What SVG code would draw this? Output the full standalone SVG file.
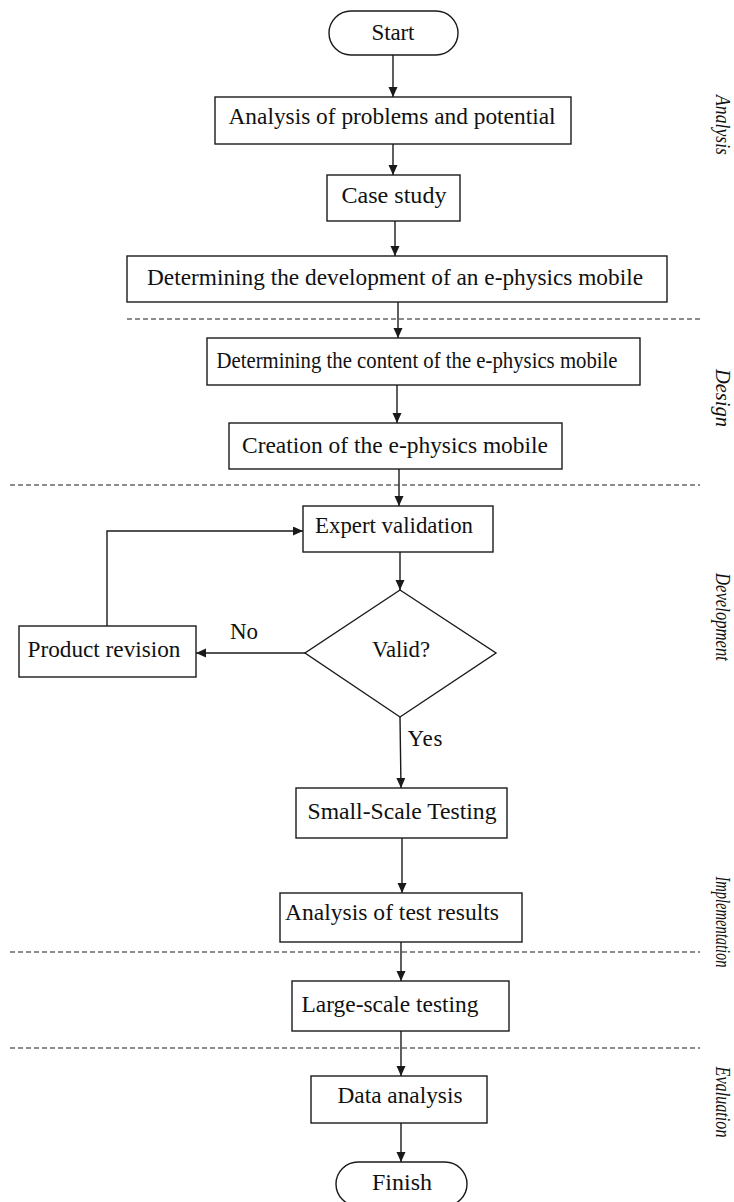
<svg xmlns="http://www.w3.org/2000/svg" width="734" height="1202" viewBox="0 0 734 1202">
<defs>
<style>
.box{fill:#fff;stroke:#1a1a1a;stroke-width:1.4}
.t{font-family:"Liberation Serif","Times New Roman",serif;font-size:23px;fill:#111;text-anchor:middle}
.side{font-family:"Liberation Serif","Times New Roman",serif;font-size:20px;font-style:italic;fill:#111;text-anchor:middle}
.c{fill:none;stroke:#1a1a1a;stroke-width:1.4}
.dash{fill:none;stroke:#1a1a1a;stroke-width:1.2;stroke-dasharray:5 3}
</style>
<marker id="ah" markerUnits="userSpaceOnUse" markerWidth="10" markerHeight="10" refX="10" refY="4.5" orient="auto">
<path d="M0,0 L10,4.5 L0,9 z" fill="#1a1a1a"/>
</marker>
</defs>
<rect width="734" height="1202" fill="#fff"/>
<g id="phase-lines">
<line class="dash" x1="127" y1="319" x2="700" y2="319"/>
<line class="dash" x1="10" y1="485" x2="700" y2="485"/>
<line class="dash" x1="10" y1="952" x2="700" y2="952"/>
<line class="dash" x1="10" y1="1048" x2="700" y2="1048"/>
</g>
<g id="phase-labels">
<text class="side" transform="translate(716,125) rotate(90)" textLength="60" lengthAdjust="spacingAndGlyphs">Analysis</text>
<text class="side" transform="translate(716,398) rotate(90)" textLength="58" lengthAdjust="spacingAndGlyphs">Design</text>
<text class="side" transform="translate(716,617) rotate(90)" textLength="88" lengthAdjust="spacingAndGlyphs">Development</text>
<text class="side" transform="translate(716,922) rotate(90)" textLength="91" lengthAdjust="spacingAndGlyphs">Implementation</text>
<text class="side" transform="translate(716,1102) rotate(90)" textLength="71" lengthAdjust="spacingAndGlyphs">Evaluation</text>
</g>
<g id="connectors">
<line class="c" x1="393" y1="55" x2="393" y2="97" marker-end="url(#ah)"/>
<line class="c" x1="393" y1="144" x2="393" y2="175" marker-end="url(#ah)"/>
<line class="c" x1="395" y1="221" x2="395" y2="256" marker-end="url(#ah)"/>
<line class="c" x1="398" y1="302" x2="398" y2="338" marker-end="url(#ah)"/>
<line class="c" x1="397" y1="385" x2="397" y2="423" marker-end="url(#ah)"/>
<line class="c" x1="399" y1="469" x2="399" y2="506" marker-end="url(#ah)"/>
<line class="c" x1="400" y1="552" x2="400" y2="590" marker-end="url(#ah)"/>
<line class="c" x1="305" y1="653" x2="196" y2="653" marker-end="url(#ah)"/>
<path class="c" d="M107,626 L107,531 L303,531" marker-end="url(#ah)"/>
<line class="c" x1="400" y1="717" x2="401" y2="788" marker-end="url(#ah)"/>
<line class="c" x1="402" y1="838" x2="402" y2="893" marker-end="url(#ah)"/>
<line class="c" x1="401" y1="942" x2="401" y2="981" marker-end="url(#ah)"/>
<line class="c" x1="401" y1="1031" x2="401" y2="1076" marker-end="url(#ah)"/>
<line class="c" x1="401" y1="1123" x2="401" y2="1162" marker-end="url(#ah)"/>
<text class="t" x="244" y="639" textLength="28">No</text>
<text class="t" x="425" y="746" textLength="35">Yes</text>
</g>
<g id="start">
<rect class="box" x="329" y="11" width="129" height="44" rx="22" ry="22"/>
<text class="t" x="393" y="40" textLength="43">Start</text>
</g>
<g id="analysis-problems">
<rect class="box" x="215" y="97" width="356" height="47"/>
<text class="t" x="392" y="124" textLength="327" lengthAdjust="spacingAndGlyphs">Analysis of problems and potential</text>
</g>
<g id="case-study">
<rect class="box" x="327" y="175" width="133" height="46"/>
<text class="t" x="394" y="203" textLength="105" lengthAdjust="spacingAndGlyphs">Case study</text>
</g>
<g id="determining-development">
<rect class="box" x="127" y="256" width="540" height="46"/>
<text class="t" x="395" y="285" textLength="496" lengthAdjust="spacingAndGlyphs">Determining  the development of an e-physics mobile</text>
</g>
<g id="determining-content">
<rect class="box" x="207" y="338" width="433" height="47"/>
<text class="t" x="417" y="368" textLength="401" lengthAdjust="spacingAndGlyphs">Determining  the content of the e-physics mobile</text>
</g>
<g id="creation">
<rect class="box" x="229" y="423" width="333" height="46"/>
<text class="t" x="395" y="453" textLength="306" lengthAdjust="spacingAndGlyphs">Creation of the e-physics mobile</text>
</g>
<g id="expert-validation">
<rect class="box" x="303" y="506" width="190" height="46"/>
<text class="t" x="394" y="533" textLength="158" lengthAdjust="spacingAndGlyphs">Expert validation</text>
</g>
<g id="valid-decision">
<polygon class="box" points="400,590 496,653 400,717 305,653"/>
<text class="t" x="401" y="657" textLength="58" lengthAdjust="spacingAndGlyphs">Valid?</text>
</g>
<g id="product-revision">
<rect class="box" x="19" y="626" width="177" height="51"/>
<text class="t" x="104" y="657" textLength="153" lengthAdjust="spacingAndGlyphs">Product revision</text>
</g>
<g id="small-scale-testing">
<rect class="box" x="296" y="788" width="211" height="50"/>
<text class="t" x="402" y="819" textLength="189" lengthAdjust="spacingAndGlyphs">Small-Scale  Testing</text>
</g>
<g id="analysis-test-results">
<rect class="box" x="280" y="893" width="242" height="49"/>
<text class="t" x="392" y="920" textLength="214" lengthAdjust="spacingAndGlyphs">Analysis of test results</text>
</g>
<g id="large-scale-testing">
<rect class="box" x="292" y="981" width="217" height="50"/>
<text class="t" x="390" y="1012" textLength="177" lengthAdjust="spacingAndGlyphs">Large-scale  testing</text>
</g>
<g id="data-analysis">
<rect class="box" x="311" y="1076" width="176" height="47"/>
<text class="t" x="400" y="1103" textLength="125" lengthAdjust="spacingAndGlyphs">Data analysis</text>
</g>
<g id="finish">
<rect class="box" x="336" y="1162" width="131" height="44" rx="22" ry="22"/>
<text class="t" x="402" y="1190" textLength="60" lengthAdjust="spacingAndGlyphs">Finish</text>
</g>
</svg>
